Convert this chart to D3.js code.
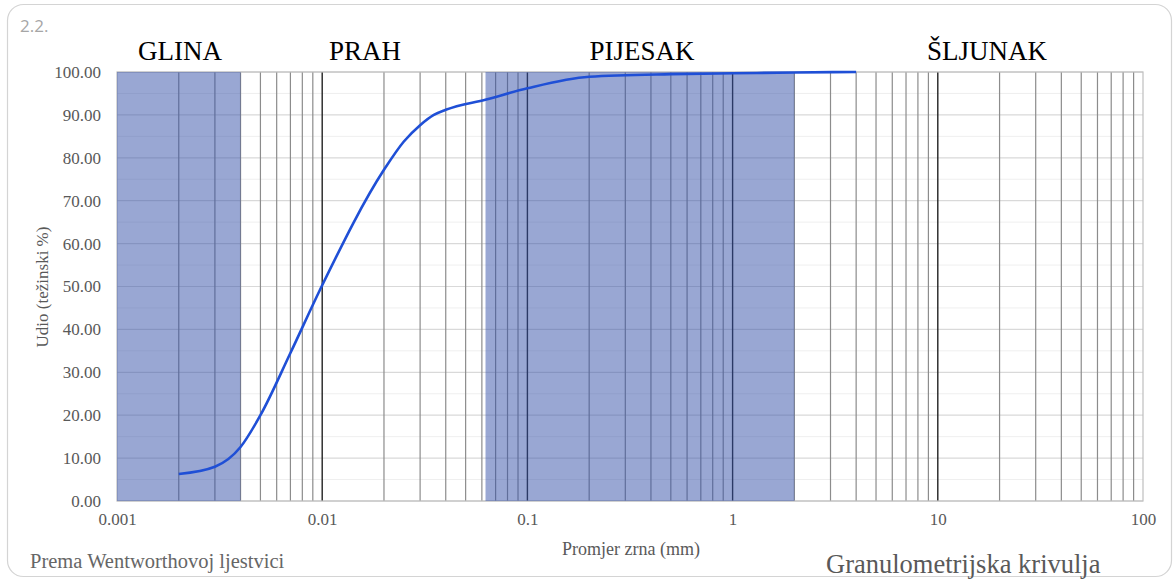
<!DOCTYPE html>
<html>
<head>
<meta charset="utf-8">
<script src="https://cdn.jsdelivr.net/npm/d3@7"></script>
<style>
  body { margin: 0; background: #fff; }
  text { font-family: "Liberation Serif", "Times New Roman", serif; }
</style>
</head>
<body>
<div id="chart"></div>
<script>
// grain size (mm) and cumulative share (%)
const grainSize = [0.002, 0.003, 0.004, 0.005, 0.007, 0.01, 0.02, 0.025, 0.03, 0.035, 0.04, 0.063, 0.1, 0.2, 0.5, 1, 2, 4];
const passing   = [6.3, 8.0, 12.6, 20.0, 34.5, 50.3, 77.2, 83.8, 87.6, 90.0, 91.2, 93.6, 96.2, 98.9, 99.5, 99.7, 99.9, 100];

// Wentworth classes
const classNames = ['GLINA', 'PRAH', 'PIJESAK', 'ŠLJUNAK'];
const classFrom  = [0.001, 0.004, 0.0625, 2];
const classTo    = [0.004, 0.0625, 2, 100];
const classShaded = [true, false, true, false];

const xTicks = [0.001, 0.01, 0.1, 1, 10, 100];
const yTicks = [0, 10, 20, 30, 40, 50, 60, 70, 80, 90, 100];

const fullWidth = 1174;
const fullHeight = 580;
const margin = { top: 72, right: 31, bottom: 79, left: 117 };
const width = fullWidth - margin.left - margin.right;
const height = fullHeight - margin.top - margin.bottom;

const svg = d3.select('#chart').append('svg')
  .attr('width', fullWidth)
  .attr('height', fullHeight);

// outer frame
svg.append('rect')
  .attr('x', 7.5).attr('y', 4.5)
  .attr('width', 1164).attr('height', 572)
  .attr('rx', 16)
  .attr('fill', 'none')
  .attr('stroke', '#d4d4d4')
  .attr('stroke-width', 1.2);

svg.append('text')
  .attr('x', 20).attr('y', 32)
  .style('font-family', '"Open Sans", "DejaVu Sans", sans-serif')
  .style('font-size', '17px')
  .attr('fill', '#a6a6a6')
  .text('2.2.');

const g = svg.append('g')
  .attr('transform', `translate(${margin.left},${margin.top})`);

const x = d3.scaleLog().domain([0.001, 100]).range([0, width]);
const y = d3.scaleLinear().domain([0, 100]).range([height, 0]);

// horizontal grid: minor every 5, major every 10
const minorY = d3.range(5, 100, 10);
g.selectAll('.hminor').data(minorY).enter().append('line')
  .attr('x1', 0).attr('x2', width)
  .attr('y1', d => y(d)).attr('y2', d => y(d))
  .attr('stroke', '#efefef').attr('stroke-width', 1);
g.selectAll('.hmajor').data(yTicks).enter().append('line')
  .attr('x1', 0).attr('x2', width)
  .attr('y1', d => y(d)).attr('y2', d => y(d))
  .attr('stroke', '#d9d9d9').attr('stroke-width', 1.2);

// vertical log grid
const minorX = [];
xTicks.slice(0, -1).forEach(dec => {
  for (let k = 2; k <= 9; k++) minorX.push(dec * k);
});
g.selectAll('.vminor').data(minorX).enter().append('line')
  .attr('x1', d => x(d)).attr('x2', d => x(d))
  .attr('y1', 0).attr('y2', height)
  .attr('stroke', '#8c8c8c').attr('stroke-width', 1.2);
g.selectAll('.vmajor').data(xTicks.slice(1, -1)).enter().append('line')
  .attr('x1', d => x(d)).attr('x2', d => x(d))
  .attr('y1', 0).attr('y2', height)
  .attr('stroke', '#222').attr('stroke-width', 1.4);

// plot frame
g.append('rect')
  .attr('x', 0).attr('y', 0)
  .attr('width', width).attr('height', height)
  .attr('fill', 'none')
  .attr('stroke', '#bfbfbf').attr('stroke-width', 1.2);

// shaded class bands
const classes = classNames.map((name, i) => ({ name, from: classFrom[i], to: classTo[i], shaded: classShaded[i] }));
g.selectAll('.band').data(classes.filter(d => d.shaded)).enter().append('rect')
  .attr('x', d => x(d.from))
  .attr('y', 0)
  .attr('width', d => x(d.to) - x(d.from))
  .attr('height', height)
  .attr('fill', '#3450a8')
  .attr('fill-opacity', 0.5);

// class titles
const titleX = [180, 365, 642, 987];
g.selectAll('.ctitle').data(classes).enter().append('text')
  .attr('x', (d, i) => titleX[i] - margin.left)
  .attr('y', -12)
  .attr('text-anchor', 'middle')
  .style('font-size', '27px')
  .attr('fill', '#000')
  .text(d => d.name);

// axes
const yAxis = g.append('g')
  .call(d3.axisLeft(y).tickValues(yTicks).tickFormat(d3.format('.2f')).tickSize(0).tickPadding(16));
yAxis.select('.domain').remove();
yAxis.selectAll('text')
  .style('font-family', '"Liberation Serif", serif')
  .style('font-size', '17px')
  .attr('fill', '#595959');

const xAxis = g.append('g')
  .attr('transform', `translate(0,${height})`)
  .call(d3.axisBottom(x).tickValues(xTicks).tickFormat(d => String(d)).tickSize(0).tickPadding(12));
xAxis.select('.domain').remove();
xAxis.selectAll('text')
  .style('font-family', '"Liberation Serif", serif')
  .style('font-size', '17px')
  .attr('fill', '#595959');

// curve
const pts = grainSize.map((d, i) => [d, passing[i]]);
g.append('path')
  .datum(pts)
  .attr('fill', 'none')
  .attr('stroke', '#1f4fd6')
  .attr('stroke-width', 2.6)
  .attr('d', d3.line()
    .x(d => x(d[0]))
    .y(d => y(d[1]))
    .curve(d3.curveMonotoneX));

// axis labels
svg.append('text')
  .attr('transform', 'translate(48,287) rotate(-90)')
  .attr('text-anchor', 'middle')
  .style('font-size', '17px')
  .attr('fill', '#595959')
  .text('Udio (težinski %)');

svg.append('text')
  .attr('x', 631).attr('y', 555)
  .attr('text-anchor', 'middle')
  .style('font-size', '18px')
  .attr('fill', '#595959')
  .text('Promjer zrna (mm)');

svg.append('text')
  .attr('x', 30).attr('y', 568)
  .style('font-size', '20.5px')
  .attr('fill', '#666')
  .text('Prema Wentworthovoj ljestvici');

svg.append('text')
  .attr('x', 826).attr('y', 573)
  .style('font-size', '26.5px')
  .attr('fill', '#595959')
  .text('Granulometrijska krivulja');
</script>
</body>
</html>
